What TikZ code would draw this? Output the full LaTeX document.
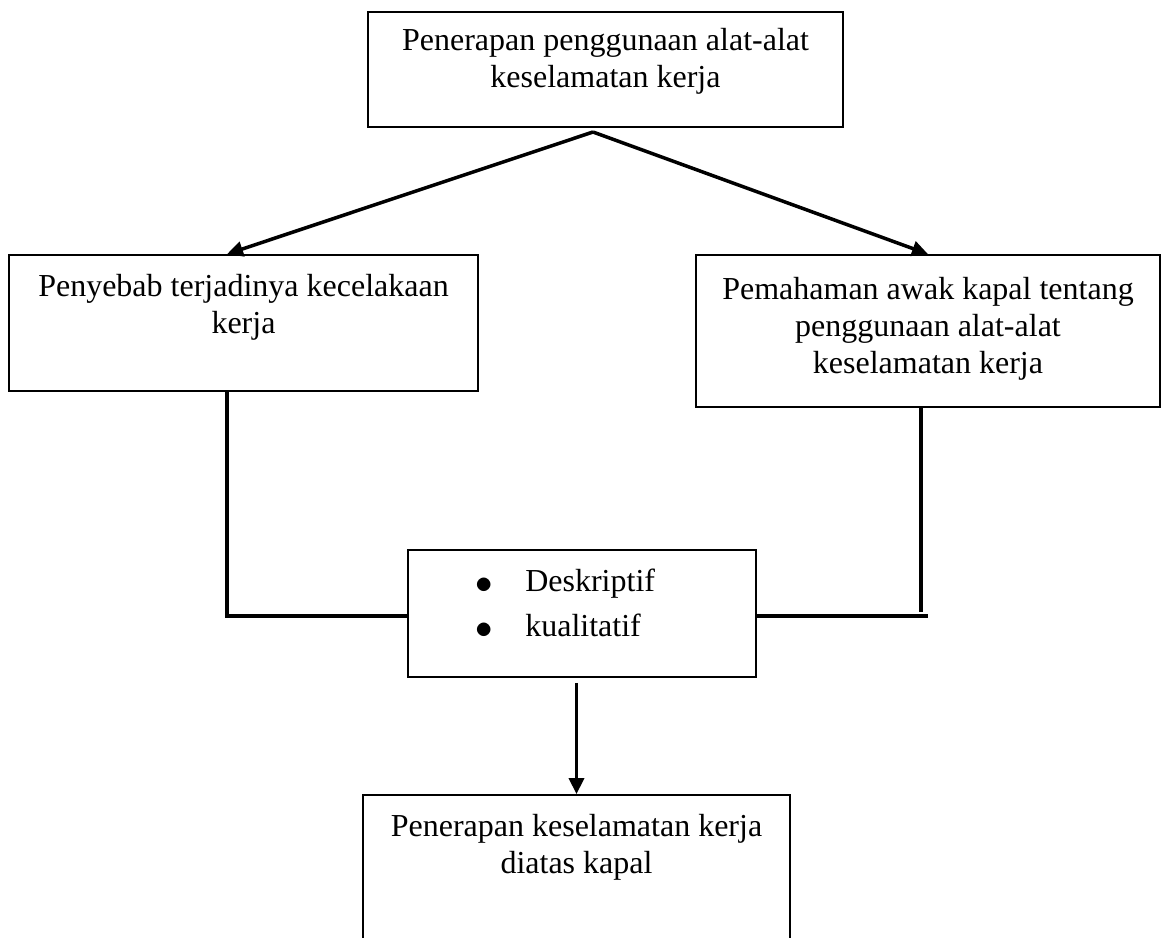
\documentclass[tikz,border=0pt]{standalone}
\usepackage{fontspec}
\setmainfont{Liberation Serif}
\usetikzlibrary{positioning,arrows.meta}

\begin{document}
\begin{tikzpicture}[x=1pt,y=-1pt,
box/.style={draw,rectangle,line width=1.8pt,inner sep=0pt},
txt/.style={inner sep=0pt,align=center,font=\fontsize{32}{37}\selectfont},
link/.style={line width=3.5pt},
arrow/.style={link,-{Triangle[length=16pt,width=15pt]}}]
\useasboundingbox (0,0) rectangle (1161,937);
\clip (0,0) rectangle (1161,937);
\node (top) [box, minimum width=475pt, minimum height=115pt] at (605.5,69.5) {};
\node (toptxt) [txt, below=17pt of top.north] {Penerapan penggunaan alat-alat\\ keselamatan kerja};
\node (cause) [box, minimum width=469pt, minimum height=136pt] at (243.5,323) {};
\node (causetxt) [txt, below=20pt of cause.north] {Penyebab terjadinya kecelakaan\\ kerja};
\node (crew) [box, minimum width=464pt, minimum height=152pt] at (928,331) {};
\node (crewtxt) [txt, below=23pt of crew.north] {Pemahaman awak kapal tentang\\ penggunaan alat-alat\\ keselamatan kerja};
\node (method) [box, minimum width=348pt, minimum height=127pt] at (582,613.5) {};
\node (methodtxt) [txt, align=left, font=\fontsize{32}{45}\selectfont,
    below right=20pt and 68pt of method.north west]
    {\makebox[50pt][l]{\raisebox{-2pt}{\scalebox{1.4}{$\bullet$}}}Deskriptif\\
     \makebox[50pt][l]{\raisebox{-2pt}{\scalebox{1.4}{$\bullet$}}}kualitatif};
\node (result) [box, minimum width=427pt, minimum height=165pt] at (576.5,877.5) {};
\node (resulttxt) [txt, below=20pt of result.north] {Penerapan keselamatan kerja\\ diatas kapal};
\coordinate (fork) at (593,132);
\draw [arrow] (fork) -- ([xshift=-16.5pt]cause.north);
\draw [arrow] (fork) -- (crew.north);
\draw [link] ([xshift=-16.5pt]cause.south) |- ([yshift=-2.5pt]method.west);
\draw [link] ([xshift=-7pt]crew.south) -- ++(0,204);
\draw [link] ([yshift=-2.5pt]method.east) -- ++(171,0);
\draw [arrow] ([yshift=-5pt]method.south -| result.north) -- (result.north);
\end{tikzpicture}
\end{document}
